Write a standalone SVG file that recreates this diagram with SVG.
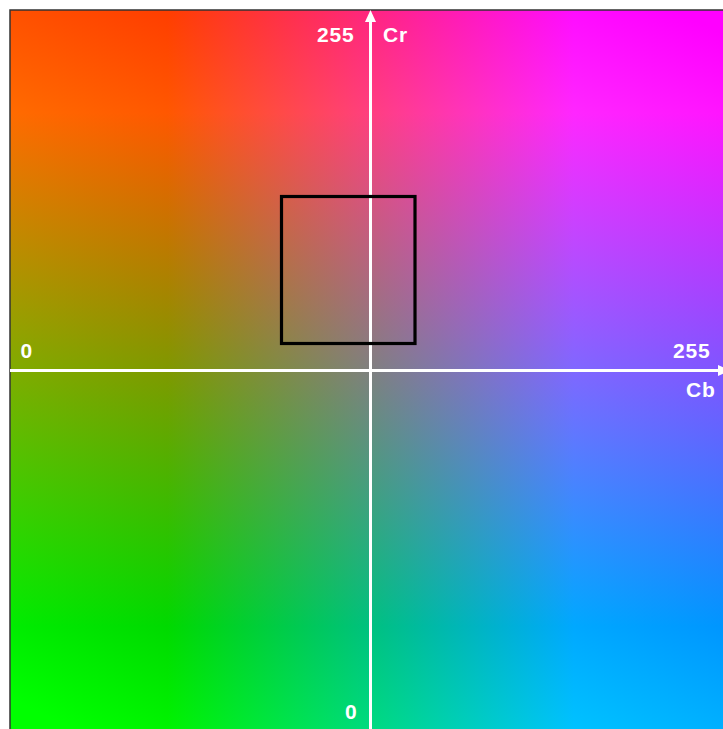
<svg xmlns="http://www.w3.org/2000/svg" width="723" height="729" viewBox="0 0 723 729">
  <defs>
    <linearGradient id="gR" gradientUnits="userSpaceOnUse" x1="0" y1="112.8" x2="0" y2="626.4">
      <stop offset="0" stop-color="#ff0000"/>
      <stop offset="1" stop-color="#000000"/>
    </linearGradient>
    <linearGradient id="gB" gradientUnits="userSpaceOnUse" x1="167.5" y1="0" x2="573.9" y2="0">
      <stop offset="0" stop-color="#000000"/>
      <stop offset="1" stop-color="#0000ff"/>
    </linearGradient>
    <linearGradient id="gG" gradientUnits="userSpaceOnUse" x1="567.9" y1="-40.9" x2="173.6" y2="777.7">
      <stop offset="0" stop-color="#000000"/>
      <stop offset="1" stop-color="#00ff00"/>
    </linearGradient>
    <style>
      .lbl { font-family: "Liberation Sans", Arial, sans-serif; font-weight: bold; font-size: 21px; fill: #ffffff; letter-spacing: 0.8px; }
      .axis { stroke: #ffffff; stroke-width: 3; fill: none; }
      .scr { mix-blend-mode: screen; }
    </style>
  </defs>
  <rect x="0" y="0" width="723" height="729" fill="#ffffff"/>
  <g id="plane" style="isolation:isolate">
    <rect x="10" y="10" width="720" height="720" fill="#000000"/>
    <rect x="10" y="10" width="720" height="720" fill="url(#gR)"/>
    <rect class="scr" x="10" y="10" width="720" height="720" fill="url(#gB)"/>
    <rect class="scr" x="10" y="10" width="720" height="720" fill="url(#gG)"/>
  </g>
  <rect id="frame" x="10" y="10" width="720" height="720" fill="none" stroke="#333333" stroke-width="1.5"/>
  <g id="connectors">
    <line class="axis" x1="370.5" y1="729" x2="370.5" y2="21"/>
    <polygon points="370.5,10 365,22 376,22" fill="#ffffff"/>
    <line class="axis" x1="10" y1="370.5" x2="719" y2="370.5"/>
    <polygon points="730,370.5 718,365 718,376" fill="#ffffff"/>
  </g>
  <g id="region">
    <rect x="281.5" y="196.5" width="133.5" height="147" fill="none" stroke="#000000" stroke-width="3.2"/>
  </g>
  <g id="labels">
    <text class="lbl" x="317" y="42">255</text>
    <text class="lbl" x="383" y="42">Cr</text>
    <text class="lbl" x="673" y="358">255</text>
    <text class="lbl" x="686" y="397">Cb</text>
    <text class="lbl" x="20.5" y="357.5">0</text>
    <text class="lbl" x="345" y="719">0</text>
  </g>
</svg>
